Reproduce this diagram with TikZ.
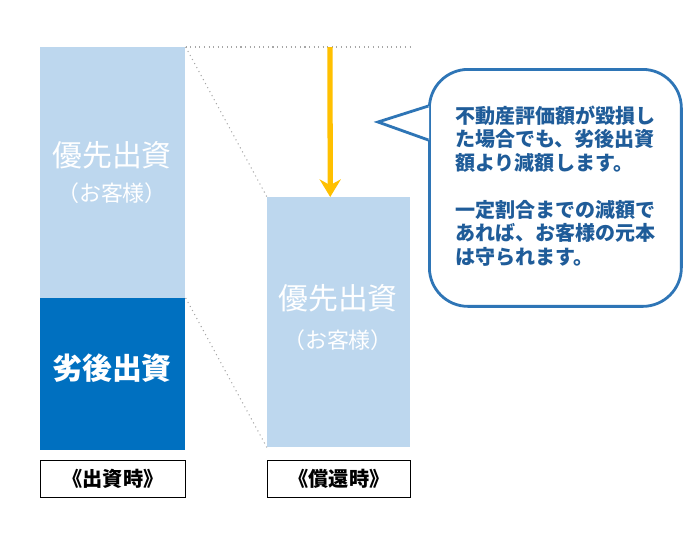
\documentclass[tikz,border=0pt]{standalone}
\usepackage{fontspec}
\setmainfont{Noto Sans CJK JP}
\usetikzlibrary{positioning,calc,arrows.meta}
\definecolor{lightbar}{HTML}{BDD7EE}
\definecolor{darkbar}{HTML}{0070C0}
\definecolor{arrowc}{HTML}{FFC000}
\definecolor{calloutc}{HTML}{2E75B6}
\definecolor{calltext}{HTML}{1F5C99}

\begin{document}
\begin{tikzpicture}[x=0.02cm,y=-0.02cm]

\tikzstyle{barBox}=[rectangle,anchor=north west,draw=none,inner sep=0pt];
\tikzstyle{tagBox}=[rectangle,anchor=north west,draw=black,line width=0.6pt,fill=white,minimum width=2.9cm,minimum height=0.74cm,font=\fontsize{11.5pt}{13pt}\bfseries\selectfont];
\tikzstyle{bigText}=[text=white,font=\fontsize{17pt}{20pt}\selectfont];
\tikzstyle{subText}=[text=white,font=\fontsize{12.5pt}{15pt}\selectfont];
\tikzstyle{guide}=[draw=gray!70,dotted,line width=0.6pt];

\useasboundingbox (0,0) rectangle (700,539);

% left bar
\node [barBox,fill=lightbar,minimum width=2.9cm,minimum height=5.02cm] (senior) at (40,47) {};
\node [barBox,fill=darkbar,minimum width=2.9cm,minimum height=3.04cm] (junior) at (40,298) {};
\node [bigText] (seniorA) at (112,155) {優先出資};
\node [subText] (seniorB) at (112,193) {（お客様）};
\node [bigText,font=\fontsize{17pt}{20pt}\bfseries] (juniorA) at (112,368) {劣後出資};
\node [tagBox] (tagL) at (40,460) {《出資時》};

% right bar
\node [barBox,fill=lightbar,minimum width=2.86cm,minimum height=5cm] (after) at (267,197) {};
\node [bigText] (afterA) at (338,298) {優先出資};
\node [subText] (afterB) at (338,340) {（お客様）};
\node [tagBox,minimum width=2.86cm] (tagR) at (267,460) {《償還時》};

% guide lines
\draw [guide] (senior.north east) -- (410,47);
\draw [guide] (senior.north east) -- (after.north west);
\draw [guide] (junior.north east) -- (after.south west);

% arrow
\coordinate (arrTop) at (330,47);
\draw [arrowc,line width=3pt,-{Stealth[length=10pt,width=12pt]}] (arrTop) -- ($(after.north west)!0.44!(after.north east)$);

% callout
\node [rectangle,rounded corners=22pt,draw=calloutc,line width=1.6pt,fill=white,anchor=north west,minimum width=5.04cm,minimum height=4.74cm] (call) at (428,68) {};
\coordinate (tip) at (378,122);
\fill [white] (429,106) -- (tip) -- (429,140) -- cycle;
\draw [calloutc,line width=1.6pt,line join=miter] (428.4,106) -- (tip) -- (428.4,140);
\node [text=calltext,align=left,font=\fontsize{11.4pt}{13.4pt}\bfseries\selectfont] (callText) at ($(call.center)+(0,-2)$) {不動産評価額が毀損し\\た場合でも、劣後出資\\額より減額します。\\[13.4pt]一定割合までの減額で\\あれば、お客様の元本\\は守られます。};

\end{tikzpicture}
\end{document}
